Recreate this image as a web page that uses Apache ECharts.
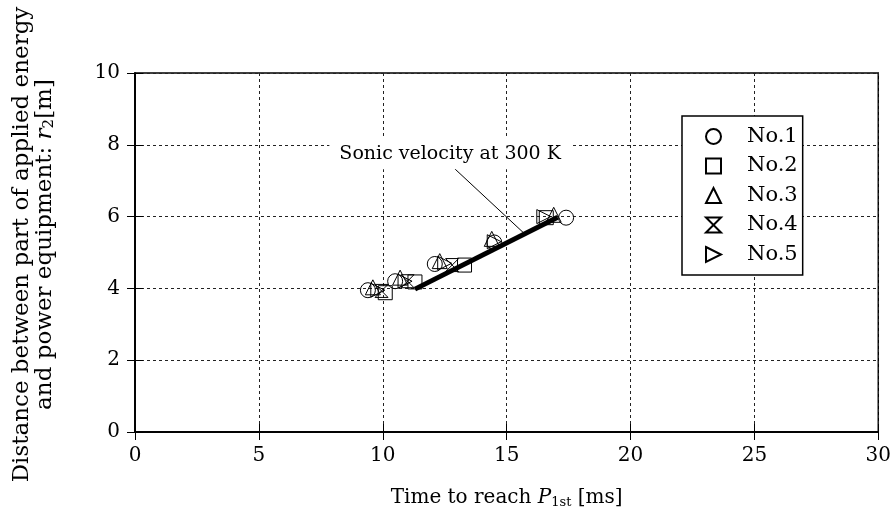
<!DOCTYPE html>
<html>
<head>
<meta charset="utf-8">
<script src="https://cdn.jsdelivr.net/npm/echarts@6/dist/echarts.min.js"></script>
<style>
  html, body { margin: 0; padding: 0; background: #fff; }
  #chart { width: 894px; height: 524px; }
</style>
</head>
<body>
<div id="chart"></div>
<script>
// Measured arrival times [ms] and distances r2 [m] for each test
const seriesNames = ['No.1', 'No.2', 'No.3', 'No.4', 'No.5'];
const no1 = [[9.4, 3.95], [10.5, 4.2], [12.1, 4.68], [14.5, 5.28], [17.4, 5.97]];
const no2 = [[10.1, 3.88], [11.3, 4.18], [13.3, 4.65], [16.6, 5.97]];
const no3 = [[9.6, 4.03], [10.7, 4.3], [12.3, 4.76], [14.4, 5.38], [16.9, 6.05]];
const no4 = [[9.95, 3.93], [11.0, 4.2], [12.8, 4.65]];
const no5 = [[9.8, 3.95], [10.9, 4.2], [12.5, 4.7], [14.5, 5.3], [16.5, 6.0]];

// Sonic velocity reference line (about 347 m/s at 300 K)
const sonicLine = [[11.3, 3.98], [17.06, 5.98]];
const sonicLabel = 'Sonic velocity at 300 K';
const sonicLabelPos = [12.72, 7.75];
const sonicLeader = [[12.8, 7.4], [15.68, 5.55]];

const xTicks = { min: 0, max: 30, interval: 5 };
const yTicks = { min: 0, max: 10, interval: 2 };

const FONT = 'DejaVu Serif';

const symbols = [
  'circle',
  'rect',
  'triangle',
  'path://M0,0 L10,0 L0,10 L10,10 Z',
  'path://M0,0 L10,5 L0,10 Z'
];
const symbolSizes = [15, 14, 15, 13, 14];
const dataSets = [no1, no2, no3, no4, no5];

const chart = echarts.init(document.getElementById('chart'), null, { renderer: 'canvas' });

const tickLabel = { fontFamily: FONT, fontSize: 20, color: '#000' };

const scatterSeries = dataSets.map((d, i) => ({
  name: seriesNames[i],
  type: 'scatter',
  xAxisIndex: 0,
  yAxisIndex: 0,
  data: d,
  symbol: symbols[i],
  symbolSize: symbolSizes[i],
  itemStyle: { color: 'rgba(255,255,255,0)', borderColor: '#000', borderWidth: 1, opacity: 1 },
  emphasis: { disabled: true },
  z: 3
}));

const option = {
  animation: false,
  backgroundColor: '#fff',
  grid: {
    left: 135, right: 9, top: 73, bottom: 92,
    show: true, borderColor: '#000', borderWidth: 1.5, backgroundColor: 'transparent'
  },
  legend: {
    orient: 'vertical',
    left: 682,
    top: 116,
    padding: [10, 5, 10, 23],
    itemWidth: 15,
    itemHeight: 15,
    itemGap: 8.5,
    backgroundColor: '#fff',
    borderColor: '#000',
    borderWidth: 1.5,
    borderRadius: 0,
    data: seriesNames,
    selectedMode: false,
    textStyle: { fontFamily: FONT, fontSize: 21, color: '#000', padding: [0, 0, 0, 21] }
  },
  xAxis: [
    {
      type: 'value', ...xTicks,
      position: 'bottom',
      name: 'Time to reach {i|P}{sub|1st} [ms]',
      nameLocation: 'middle',
      nameGap: 54,
      nameTextStyle: {
        fontFamily: FONT, fontSize: 20, color: '#000',
        rich: {
          i: { fontFamily: FONT, fontSize: 20, fontStyle: 'italic', color: '#000' },
          sub: { fontFamily: FONT, fontSize: 13, color: '#000', verticalAlign: 'bottom', padding: [10, 0, 0, 0] }
        }
      },
      axisLine: { show: true, lineStyle: { color: '#000', width: 1.5 } },
      axisTick: { show: true, inside: true, length: 8, lineStyle: { color: '#000', width: 1 } },
      axisLabel: { ...tickLabel, margin: 14 },
      splitLine: { show: true, lineStyle: { color: '#222', width: 1, type: [3, 3] } }
    },
    {
      type: 'value', ...xTicks,
      position: 'top',
      axisLine: { show: true, lineStyle: { color: '#000', width: 1.5 } },
      axisTick: { show: true, inside: true, length: 8, lineStyle: { color: '#000', width: 1 } },
      axisLabel: { show: false },
      splitLine: { show: false }
    }
  ],
  yAxis: [
    {
      type: 'value', ...yTicks,
      position: 'left',
      name: 'Distance between part of applied energy\nand power equipment: {i|r}{sub|2}[m]',
      nameLocation: 'middle',
      nameRotate: 90,
      nameGap: 78,
      nameTextStyle: {
        fontFamily: FONT, fontSize: 23, color: '#000', lineHeight: 23, align: 'center',
        padding: [0, 0, 0, 16],
        rich: {
          i: { fontFamily: FONT, fontSize: 23, fontStyle: 'italic', color: '#000', lineHeight: 23 },
          sub: { fontFamily: FONT, fontSize: 15, color: '#000', verticalAlign: 'bottom', padding: [10, 0, 0, 0], lineHeight: 23 }
        }
      },
      axisLine: { show: true, lineStyle: { color: '#000', width: 1.5 } },
      axisTick: { show: true, inside: true, length: 8, lineStyle: { color: '#000', width: 1 } },
      axisLabel: { ...tickLabel, margin: 15 },
      splitLine: { show: true, lineStyle: { color: '#222', width: 1, type: [3, 3] } }
    },
    {
      type: 'value', ...yTicks,
      position: 'right',
      axisLine: { show: true, lineStyle: { color: '#000', width: 1.5 } },
      axisTick: { show: true, inside: true, length: 8, lineStyle: { color: '#000', width: 1 } },
      axisLabel: { show: false },
      splitLine: { show: false }
    }
  ],
  series: [
    ...scatterSeries,
    {
      name: 'sonic',
      type: 'line',
      data: sonicLine,
      symbol: 'none',
      lineStyle: { color: '#000', width: 5 },
      z: 4,
      silent: true
    },
    {
      name: 'leader',
      type: 'line',
      data: sonicLeader,
      symbol: 'none',
      lineStyle: { color: '#000', width: 1 },
      z: 4,
      silent: true
    },
    {
      name: 'sonicText',
      type: 'scatter',
      data: [sonicLabelPos],
      symbolSize: 0,
      silent: true,
      z: 5,
      itemStyle: { opacity: 1 },
      label: {
        show: true,
        position: 'inside',
        formatter: sonicLabel,
        fontFamily: FONT,
        fontSize: 19,
        color: '#000',
        opacity: 1,
        textBorderWidth: 0,
        backgroundColor: '#fff',
        padding: [6, 10, 6, 10]
      }
    }
  ]
};

chart.setOption(option);
</script>
</body>
</html>
